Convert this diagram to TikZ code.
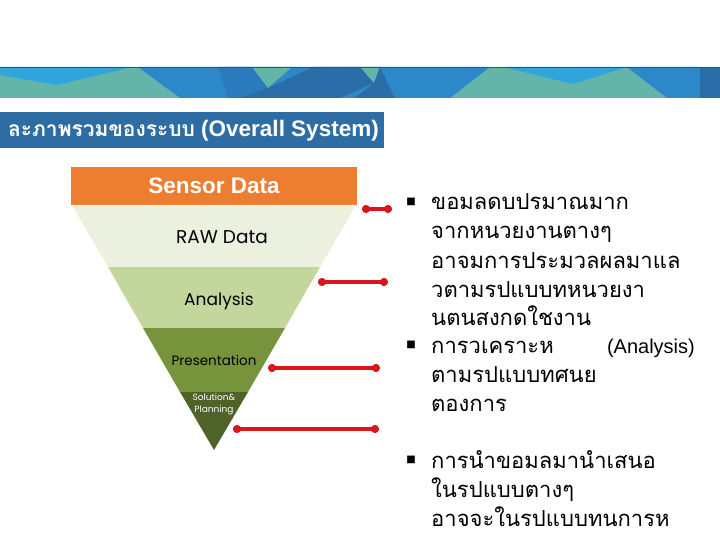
\documentclass[tikz,border=0pt]{standalone}
\usepackage{fontspec}
\setmainfont{Liberation Sans}
\newfontfamily\thai[Script=Thai]{Loma}
\newfontfamily\gothic{Poppins}
\newfontfamily\symb{DejaVu Sans}
\usetikzlibrary{arrows.meta}
\definecolor{bnTeal}{HTML}{62B5A8}
\definecolor{bnLight}{HTML}{2EA5DC}
\definecolor{bnMid}{HTML}{2D88C9}
\definecolor{bnMid2}{HTML}{2A7BBE}
\definecolor{bnDark}{HTML}{2B6DA9}
\definecolor{bnLine}{HTML}{1F5A85}
\definecolor{titleBlue}{HTML}{2E6CA4}
\definecolor{fOrange}{HTML}{ED7D31}
\definecolor{fRaw}{HTML}{EBF1DE}
\definecolor{fAna}{HTML}{C3D69B}
\definecolor{fPre}{HTML}{77933C}
\definecolor{fSol}{HTML}{4F6228}
\definecolor{conRed}{HTML}{D9161B}
\tikzset{
  conn/.style={draw=conRed, line width=3.2pt, {Circle[length=8pt]}-{Circle[length=8pt]}},
  bodyline/.style={anchor=base west, inner sep=0pt, font=\thai\fontsize{22}{26}\selectfont},
  bulletmark/.style={inner sep=0pt, font=\symb\fontsize{10}{10}\selectfont},
  bandlabel/.style={inner sep=0pt, font=\gothic\fontsize{17}{20}\selectfont}
}
\begin{document}
\begin{tikzpicture}[x=1pt,y=-1pt]
\useasboundingbox (0,0) rectangle (720,540);
\fill[white] (0,0) rectangle (720,540);
% banner
\fill[bnTeal] (0,67) rectangle (720,98);
\fill[bnLight] (0,67) -- (132,67) -- (57,85) -- (0,75) -- cycle;
\fill[bnMid] (138,67) -- (490,67) -- (450,98) -- (180,98) -- cycle;
\fill[bnMid2] (218,67) -- (252,67) -- (268,88) -- (252,98) -- (228,98) -- cycle;
\fill[bnTeal] (252,67) -- (292,67) -- (268,88) -- cycle;
\fill[bnDark] (240,98) -- (268,88) -- (300,98) -- cycle;
\fill[bnDark] (268,88) -- (313,67) -- (360,67) -- (374,83) -- (340,98) -- (300,98) -- cycle;
\fill[bnTeal] (360,67) -- (380,67) -- (374,83) -- cycle;
\fill[bnDark] (374,83) -- (380,67) -- (395,98) -- (355,98) -- cycle;
\fill[bnLight] (503,67) -- (627,67) -- (573,84) -- cycle;
\fill[bnMid] (627,67) -- (700,67) -- (700,98) -- (667,98) -- cycle;
\fill[bnDark] (700,67) rectangle (720,98);
\draw[bnLine, line width=1pt] (0,67.5) -- (720,67.5);
% title bar
\fill[titleBlue] (0,112) rectangle (384,148);
\begin{scope}
\clip (0,112) rectangle (384,148);
\node[anchor=east, inner sep=0pt, text=white] (title) at (379,131)
  {{\thai\bfseries\fontsize{21}{25}\selectfont ละภาพรวมของระบบ}{\bfseries\fontsize{22.5}{27}\selectfont\ (Overall System)}};
\end{scope}
% funnel
\fill[fOrange] (71,167) rectangle (357,205);
\fill[fRaw] (72,205) -- (356,205) -- (320,267) -- (108,267) -- cycle;
\fill[fAna] (108,267) -- (320,267) -- (285,328) -- (143,328) -- cycle;
\fill[fPre] (143,328) -- (285,328) -- (248,392) -- (180,392) -- cycle;
\fill[fSol] (180,392) -- (248,392) -- (214,450) -- cycle;
\node[inner sep=0pt, text=white, font=\bfseries\fontsize{22.5}{26}\selectfont] (sensor) at (214,186) {Sensor Data};
\node[bandlabel, font=\gothic\fontsize{18.5}{22}\selectfont] (raw) at (222,237) {RAW Data};
\node[bandlabel] (ana) at (219,301) {Analysis};
\node[bandlabel, font=\gothic\fontsize{13.5}{17}\selectfont] (pre) at (214,360) {Presentation};
\node[inner sep=0pt, text=white, align=center, font=\gothic\fontsize{9}{12}\selectfont] (sol) at (214,404) {Solution\&\\Planning};
% connectors
\coordinate (c1a) at (362,209); \coordinate (c1b) at (392,209);
\coordinate (c2a) at (318,282); \coordinate (c2b) at (388,282);
\coordinate (c3a) at (268,368); \coordinate (c3b) at (380,368);
\coordinate (c4a) at (233,429); \coordinate (c4b) at (379,429);
\draw[conn] (c1a) -- (c1b);
\draw[conn] (c2a) -- (c2b);
\draw[conn] (c3a) -- (c3b);
\draw[conn] (c4a) -- (c4b);
% bullets text
\node[bulletmark] (b1) at (411,202) {■};
\node[bulletmark] (b2) at (411,345) {■};
\node[bulletmark] (b3) at (411,460) {■};
\node[bodyline] (l1) at (431,210) {ขอมลดบปรมาณมาก};
\node[bodyline] (l2) at (431,239) {จากหนวยงานตางๆ};
\node[bodyline] (l3) at (431,268) {อาจมการประมวลผลมาแล};
\node[bodyline] (l4) at (431,297) {วตามรปแบบทหนวยงา};
\node[bodyline] (l5) at (431,325) {นตนสงกดใชงาน};
\node[bodyline] (l6) at (431,353) {การวเคราะห};
\node[anchor=base east, inner sep=0pt, font=\fontsize{20}{24}\selectfont] (l6b) at (695,353) {(Analysis)};
\node[bodyline] (l7) at (431,382) {ตามรปแบบทศนย};
\node[bodyline] (l8) at (431,411) {ตองการ};
\node[bodyline] (l9) at (431,468) {การนำขอมลมานำเสนอ};
\node[bodyline] (l10) at (431,497) {ในรปแบบตางๆ};
\node[bodyline] (l11) at (431,526) {อาจจะในรปแบบทนการห};
\end{tikzpicture}
\end{document}
